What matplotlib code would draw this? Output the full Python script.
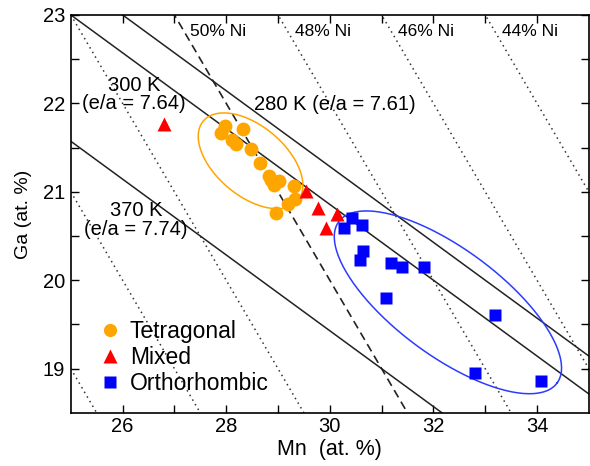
import numpy as np
import matplotlib
matplotlib.use("Agg")
from matplotlib import pyplot as plt

plt.rcParams["font.family"] = ["Liberation Sans", "DejaVu Sans"]

# Phase data (Mn at.%, Ga at.%)
tet_mn = [27.98, 27.90, 28.32, 28.11, 28.19, 28.47, 28.66, 28.82, 29.01, 28.92,
          29.30, 29.33, 29.19, 28.97, 28.87]
tet_ga = [21.74, 21.66, 21.71, 21.59, 21.54, 21.48, 21.33, 21.18, 21.12, 21.08,
          21.07, 20.92, 20.86, 20.76, 21.13]
mix_mn = [26.80, 29.55, 29.77, 30.14, 29.93]
mix_ga = [21.77, 21.01, 20.82, 20.75, 20.59]
ort_mn = [30.43, 30.27, 30.62, 30.64, 30.59, 31.19, 31.39, 31.81, 31.08, 33.19,
          32.81, 34.08]
ort_ga = [20.70, 20.59, 20.62, 20.33, 20.23, 20.19, 20.15, 20.15, 19.80, 19.61,
          18.95, 18.86]

# constant Ni lines (at.%) and constant e/a lines
ni_dotted = [56, 54, 52, 48, 46, 44, 42]
ni_dashed = [50]
ni_labels = ["50% Ni", "48% Ni", "46% Ni", "44% Ni"]
ni_label_mn = [27.31, 29.33, 31.32, 33.33]
ea_levels = [7.64, 7.61, 7.74]

# ellipses: centre, major and minor semi-axis vectors (data units)
orange_center = [28.47, 21.35]
orange_u = [0.916, -0.447]
orange_v = [0.425, 0.306]
blue_center = [32.28, 19.75]
blue_u = [2.11, -0.91]
blue_v = [0.60, 0.49]

fig = plt.figure(figsize=(5.9, 4.66), dpi=100)
ax = fig.add_axes([0.12, 0.114, 0.878, 0.854])

mn = np.array([25.0, 35.0])
for ni in ni_dotted:
    ax.plot(mn, 100 - ni - mn, color="#333333", lw=1.1, ls=(0, (1, 2.5)))
for ni in ni_dashed:
    ax.plot(mn, 100 - ni - mn, color="#222222", lw=1.2, ls=(0, (5, 3)))
# e/a = 10 - 0.03*Mn - 0.07*Ga for Ni-Mn-Ga
for ea in ea_levels:
    ax.plot(mn, (10 - ea - 0.03 * mn) / 0.07, color="#222222", lw=1.1)

t = np.linspace(0, 2 * np.pi, 200)
for c, u, v, col in [(orange_center, orange_u, orange_v, "#FFA500"),
                     (blue_center, blue_u, blue_v, "#2B3BFF")]:
    ax.plot(c[0] + u[0] * np.cos(t) + v[0] * np.sin(t),
            c[1] + u[1] * np.cos(t) + v[1] * np.sin(t), color=col, lw=1.1)

ax.plot(tet_mn, tet_ga, "o", color="#FFA500", ms=10, mec="none", label="Tetragonal")
ax.plot(mix_mn, mix_ga, "^", color="#FF0000", ms=10, mec="none", label="Mixed")
ax.plot(ort_mn, ort_ga, "s", color="#0000FF", ms=9, mec="none", label="Orthorhombic")

for lbl, x in zip(ni_labels, ni_label_mn):
    ax.text(x, 22.81, lbl, fontsize=12.5, ha="left", va="center")
ax.text(26.22, 22.10, "300 K\n(e/a = 7.64)", fontsize=14.5, ha="center", va="center",
        linespacing=0.95)
ax.text(28.54, 21.99, "280 K (e/a = 7.61)", fontsize=14.5, ha="left", va="center")
ax.text(26.26, 20.68, "370 K\n(e/a = 7.74)", fontsize=14.5, ha="center", va="center",
        linespacing=0.95)

ax.set_xlim(25, 35)
ax.set_ylim(18.5, 23)
ax.set_xticks([26, 28, 30, 32, 34])
ax.set_xticks([27, 29, 31, 33], minor=True)
ax.set_yticks([19, 20, 21, 22, 23])
ax.set_yticks([19.5, 20.5, 21.5, 22.5], minor=True)
ax.tick_params(which="both", direction="in", top=True, right=True, length=5.5,
               width=1.0, labelsize=14.5, pad=4)
ax.tick_params(axis="x", which="both", pad=3)
for s in ax.spines.values():
    s.set_linewidth(1.2)
ax.set_xlabel("Mn  (at. %)", fontsize=15.5, labelpad=2)
ax.set_ylabel("Ga (at. %)", fontsize=14, labelpad=8)

ax.legend(loc="lower left", bbox_to_anchor=(0.018, 0.0), frameon=False, fontsize=16.5,
          handlelength=1.0, handletextpad=0.37, labelspacing=0.12, borderpad=0.3,
          markerscale=0.95)

fig.savefig("out.png", dpi=100)
